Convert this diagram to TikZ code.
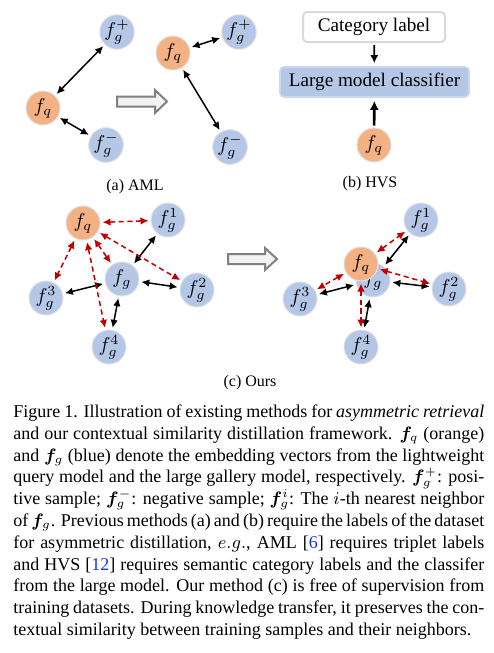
\documentclass[tikz,border=0pt]{standalone}
\usepackage{amsmath,bm}
\usepackage{fontspec}
\setmainfont{Liberation Serif}
\usetikzlibrary{arrows.meta}

\definecolor{qorange}{HTML}{F4B183}
\definecolor{gblue}{HTML}{B4C7E7}
\definecolor{cred}{HTML}{C00000}
\definecolor{citeblue}{rgb}{0.1,0.2,0.9}

\tikzset{
  feat/.style={circle, draw=black!12, line width=0.5pt, minimum size=17pt, inner sep=0pt, font=\fontsize{10}{12}\selectfont},
  qfeat/.style={feat, fill=qorange},
  gfeat/.style={feat, fill=gblue},
  sim/.style={{Latex[length=4pt,width=3.8pt]}-{Latex[length=4pt,width=3.8pt]}, line width=0.75pt, shorten <=1pt, shorten >=1pt},
  ctx/.style={sim, draw=cred, dash pattern=on 2.6pt off 1.8pt},
  hollow/.style={draw=black!50, fill=black!5, line width=1pt},
  sublabel/.style={font=\fontsize{8}{9.6}\selectfont},
  boxlabel/.style={rounded corners=2pt, minimum height=15pt, inner sep=0pt, font=\rmfamily\fontsize{9.6}{11}\selectfont},
}

\begin{document}
\begin{tikzpicture}[x=0.5pt, y=-0.5pt]
\useasboundingbox (0,0) rectangle (493,653);

% (a) AML
\node[qfeat] (aq) at (43,108) {$f_q$};
\node[gfeat] (apos) at (117,32) {$f_g^+$};
\node[gfeat] (aneg) at (106,145) {$f_g^-$};
\draw[sim] (aq) -- (apos);
\draw[sim] (aq) -- (aneg);
\draw[hollow] (117,96.5) -- (155,96.5) -- (155,90) -- (167,101.5) -- (155,113) -- (155,106.5) -- (117,106.5) -- cycle;
\node[qfeat] (aq2) at (173,53) {$f_q$};
\node[gfeat] (apos2) at (239,32) {$f_g^+$};
\node[gfeat] (aneg2) at (230,147) {$f_g^-$};
\draw[sim] (aq2) -- (apos2);
\draw[sim] (aq2) -- (aneg2);
\node[sublabel] (capa) at (135,187) {(a) AML};

% (b) HVS
\node[boxlabel, draw=black!15, line width=1pt, fill=white, minimum width=71pt] (cat) at (374,27) {Category label};
\node[boxlabel, draw=gblue!70!white, line width=0.8pt, fill=gblue, minimum width=94.5pt] (cls) at (374.5,82) {Large model classifier};
\node[qfeat] (bq) at (374,145) {$f_q$};
\draw[-{Latex[length=4pt,width=4pt]}, line width=0.9pt, shorten <=1pt, shorten >=1.5pt] (cat) -- (cls);
\draw[-{Latex[length=4.5pt,width=4.5pt]}, line width=1.3pt, shorten <=1pt, shorten >=1.5pt] (bq) -- (cls);
\node[sublabel] (capb) at (370,184) {(b) HVS};

% (c) Ours, before
\node[qfeat] (cq) at (83,223) {$f_q$};
\node[gfeat] (c1) at (168,220) {$f_g^1$};
\node[gfeat] (cg) at (122,279) {$f_g$};
\node[gfeat] (c2) at (197,290) {$f_g^2$};
\node[gfeat] (c3) at (46,298) {$f_g^3$};
\node[gfeat] (c4) at (109,347) {$f_g^4$};
\foreach \n in {1,2,3,4}{
  \draw[sim] (cg) -- (c\n);
}
\foreach \n in {1,2,3,4}{
  \draw[ctx] (cq) -- (c\n);
}
\draw[ctx] (cq) -- (cg);

\draw[hollow] (228,254) -- (265,254) -- (265,248) -- (277,259) -- (265,270) -- (265,264) -- (228,264) -- cycle;

% (c) Ours, after
\node[gfeat] (dg) at (373,280) {$f_g$};
\node[qfeat] (dq) at (361,264) {$f_q$};
\node[gfeat] (d1) at (421,220) {$f_g^1$};
\node[gfeat] (d2) at (449,289) {$f_g^2$};
\node[gfeat] (d3) at (300,299) {$f_g^3$};
\node[gfeat] (d4) at (361,347) {$f_g^4$};
\foreach \n in {1,2,3,4}{
  \draw[sim] (dg) -- (d\n);
  \draw[ctx] (dq) -- (d\n);
}
\node[sublabel] (capc) at (250,383) {(c) Ours};

% caption
\node[anchor=north west, inner sep=0pt, text width=235.5pt, align=justify, font=\fontsize{9}{10.9}\selectfont] (figcap) at (13,404.5) {%
Figure 1. Illustration of existing methods for \emph{asymmetric retrieval}\linebreak
and our contextual similarity distillation framework. $\bm{f}_q$ (orange)\linebreak
and $\bm{f}_g$ (blue) denote the embedding vectors from the lightweight\linebreak
query model and the large gallery model, respectively. $\bm{f}_g^+$: posi-\linebreak
tive sample; $\bm{f}_g^-$: negative sample; $\bm{f}_g^i$: The $i$-th nearest neighbor\linebreak
of $\bm{f}_g$. Previous methods (a) and (b) require the labels of the dataset\linebreak
for asymmetric distillation, $e.g.$, AML [\textcolor{citeblue}{6}] requires triplet labels\linebreak
and HVS [\textcolor{citeblue}{12}] requires semantic category labels and the classifer\linebreak
from the large model. Our method (c) is free of supervision from\linebreak
training datasets. During knowledge transfer, it preserves the con-\linebreak
textual similarity between training samples and their neighbors.};
\end{tikzpicture}
\end{document}
